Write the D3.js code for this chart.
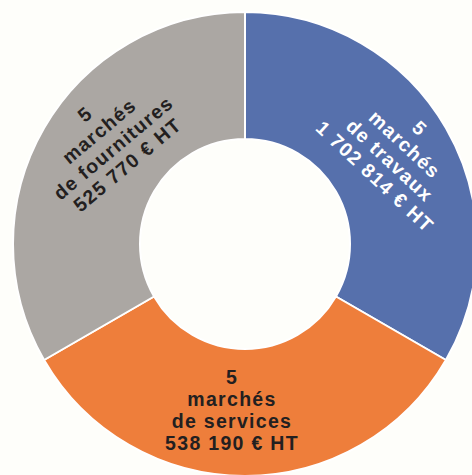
<!DOCTYPE html>
<html>
<head>
<meta charset="utf-8">
<script src="https://cdn.jsdelivr.net/npm/d3@7"></script>
<style>
  html, body { margin: 0; padding: 0; background: #fefefa; }
  svg { display: block; }
  text { font-family: "Liberation Sans", Arial, sans-serif; font-weight: 700; }
</style>
</head>
<body>
<svg id="chart" width="472" height="475"></svg>
<script>
// Data
const categories = ["travaux", "services", "fournitures"];
const marketCounts = [5, 5, 5];
const amountLabels = ["1 702 814 € HT", "538 190 € HT", "525 770 € HT"];
const labelLines = [
  ["5", "marchés", "de travaux", "1 702 814 € HT"],
  ["5", "marchés", "de services", "538 190 € HT"],
  ["5", "marchés", "de fournitures", "525 770 € HT"]
];

// Styling / layout (not data)
const colors = ["#5670ac", "#ee7e3b", "#aba7a3"];
const textColors = ["#ffffff", "#231f20", "#231f20"];
const labelRotation = [43, 0, -40];
const labelAngleDeg = [59, 184.5, 307];
const labelRadius = [178, 166, 174];

const W = 472, H = 475;
const cx = 245, cy = 244;
const outerR = 232, innerR = 105;

const svg = d3.select("#chart");
const g = svg.append("g").attr("transform", `translate(${cx},${cy})`);

const pie = d3.pie().value(d => d).sort(null);
const arcs = pie(marketCounts);
const arc = d3.arc().innerRadius(innerR).outerRadius(outerR);

g.selectAll("path.slice")
  .data(arcs)
  .join("path")
  .attr("class", "slice")
  .attr("d", arc)
  .attr("fill", (d, i) => colors[i])
  .attr("stroke", "#ffffff")
  .attr("stroke-width", 2);

const fontSize = 19.5, lineH = 22;
arcs.forEach((d, i) => {
  const a = labelAngleDeg[i] * Math.PI / 180;
  const x = Math.sin(a) * labelRadius[i];
  const y = -Math.cos(a) * labelRadius[i];
  const lines = labelLines[i];
  const lg = g.append("g")
    .attr("transform", `translate(${x},${y}) rotate(${labelRotation[i]})`);
  lines.forEach((ln, j) => {
    lg.append("text")
      .attr("transform", `translate(0,${(j - (lines.length - 1) / 2) * lineH})`)
      .attr("text-anchor", "middle")
      .attr("dy", "0.36em")
      .attr("fill", textColors[i])
      .style("font-size", fontSize + "px")
      .style("letter-spacing", "1.3px")
      .text(ln);
  });
});
</script>
</body>
</html>
